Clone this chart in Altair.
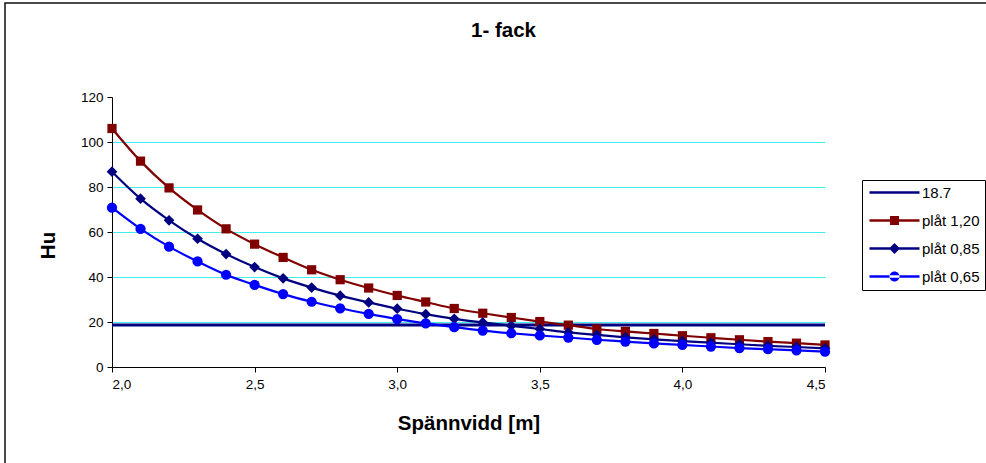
import altair as alt
import pandas as pd

# ---- data ----
span = [2.0, 2.1, 2.2, 2.3, 2.4, 2.5, 2.6, 2.7, 2.8, 2.9, 3.0, 3.1, 3.2,
        3.3, 3.4, 3.5, 3.6, 3.7, 3.8, 3.9, 4.0, 4.1, 4.2, 4.3, 4.4, 4.5]
plat_120 = [106.0, 91.5, 79.6, 69.8, 61.4, 54.6, 48.7, 43.2, 38.8, 35.1, 31.8, 28.9, 26.0,
            23.9, 22.0, 20.2, 18.6, 16.9, 15.8, 14.9, 13.9, 13.0, 12.1, 11.3, 10.6, 9.8]
plat_085 = [86.8, 74.8, 65.2, 57.0, 50.2, 44.4, 39.4, 35.3, 31.7, 28.7, 25.9, 23.5, 21.4,
            19.8, 18.3, 16.9, 15.4, 14.3, 13.2, 12.3, 11.5, 10.8, 10.1, 9.4, 8.9, 8.3]
plat_065 = [70.8, 61.4, 53.5, 46.9, 41.0, 36.5, 32.4, 29.0, 26.1, 23.6, 21.3, 19.4, 17.7,
            16.2, 15.0, 14.0, 13.1, 12.1, 11.3, 10.5, 9.8, 9.1, 8.4, 7.9, 7.4, 6.8]
limit_value = 18.7
limit_span = [2.0, 4.5]

series_names = ["18.7", "plåt 1,20", "plåt 0,85", "plåt 0,65"]
series_colors = ["#000080", "#800000", "#000080", "#0000FF"]
x_ticks = [2.0, 2.5, 3.0, 3.5, 4.0, 4.5]
y_ticks = [0, 20, 40, 60, 80, 100, 120]

rows = []
for name, vals in [("plåt 1,20", plat_120), ("plåt 0,85", plat_085), ("plåt 0,65", plat_065)]:
    for x, v in zip(span, vals):
        rows.append({"x": x, "y": v, "series": name})
curves = pd.DataFrame(rows)
limit_df = pd.DataFrame({"x": limit_span, "y": [limit_value] * len(limit_span), "series": "18.7"})

FONT = "Liberation Sans"

xscale = alt.Scale(domain=[2.0, 4.5], nice=False, zero=False)
yscale = alt.Scale(domain=[0, 120], nice=False)

x_enc = alt.X("x:Q", scale=xscale, axis=alt.Axis(
    values=x_ticks, labelExpr="replace(format(datum.value, '.1f'), '.', ',')",
    title="Spännvidd [m]", titleX=356.5, titleY=56, titleBaseline="middle",
    titleFontSize=20.5, titleFontWeight="bold", grid=False,
    tickSize=5, labelPadding=5, labelFontSize=13.5))
y_enc = alt.Y("y:Q", scale=yscale, axis=alt.Axis(
    values=y_ticks, title="Hu", titleX=-64, titleY=148, titleBaseline="middle",
    titleFontSize=20.5, titleFontWeight="bold", titleAngle=270, titleAlign="center",
    grid=True, gridColor={"condition": {"test": "datum.value >= 120 || datum.value <= 0", "value": "transparent"}, "value": "#40EEEE"},
    tickSize=5, labelPadding=4, labelFontSize=13.5))

frame = alt.Chart(pd.DataFrame({"k": [0]})).mark_rect(
    fill="transparent", stroke="#111111", strokeWidth=1.5
).encode(x=alt.value(-107), x2=alt.value(1100), y=alt.value(-94), y2=alt.value(500))

limit_line = alt.Chart(limit_df).mark_line(strokeWidth=3, color=series_colors[0]).encode(
    x=x_enc, y=y_enc)

def series_layers(name, color, shape, size):
    base = alt.Chart(curves).transform_filter(alt.datum.series == name)
    ln = base.mark_line(strokeWidth=2.2, interpolate="monotone", color=color).encode(x="x:Q", y="y:Q")
    pt = base.mark_point(filled=True, opacity=1, shape=shape, size=size, color=color).encode(x="x:Q", y="y:Q")
    return [ln, pt]

layers_120 = series_layers("plåt 1,20", series_colors[1], "square", 85)
layers_085 = series_layers("plåt 0,85", series_colors[2], "diamond", 115)
layers_065 = series_layers("plåt 0,65", series_colors[3], "circle", 105)

# legend symbols: a filled thin bar (the line) plus the marker, in unit coords (1 unit = 5 px)
bar = "M-1,-0.25H9V0.25H-1Z"
legend_paths = [
    bar,
    bar + "M3.1,-0.9H4.9V0.9H3.1Z",
    bar + "M4,-1.1L5.1,0L4,1.1L2.9,0Z",
    bar + "M3,0A1,1 0 1,0 5,0A1,1 0 1,0 3,0Z",
]
leg = alt.Legend(title=None, orient="none", legendX=750, legendY=83,
                 strokeColor="#000000", fillColor="white", padding=5,
                 rowPadding=12, labelFontSize=15, labelFont=FONT, labelColor="black",
                 symbolSize=100, symbolStrokeWidth=0, labelOffset=40, symbolOpacity=1)
legend_layer = alt.Chart(curves).transform_filter("false").mark_point(filled=True).encode(
    x="x:Q", y="y:Q",
    color=alt.Color("series:N", scale=alt.Scale(domain=series_names, range=series_colors), legend=leg),
    shape=alt.Shape("series:N", scale=alt.Scale(domain=series_names, range=legend_paths), legend=leg))

chart = alt.layer(frame, limit_line, *layers_120, *layers_085, *layers_065, legend_layer).properties(
    width=713, height=270,
    title=alt.TitleParams("1- fack", fontSize=20.5, fontWeight="bold", font=FONT,
                          color="black", anchor="middle", dx=35, offset=-39),
    autosize=alt.AutoSizeParams(type="none"),
    padding={"left": 112, "top": 97, "right": 161, "bottom": 96},
    background="white",
).configure_view(stroke=None).configure_axis(
    labelFont=FONT, titleFont=FONT, labelColor="black", titleColor="black",
    domainColor="black", tickColor="black", domainWidth=1, tickWidth=1,
)

chart.save("out.html", embed_options={"renderer": "svg", "actions": False})
